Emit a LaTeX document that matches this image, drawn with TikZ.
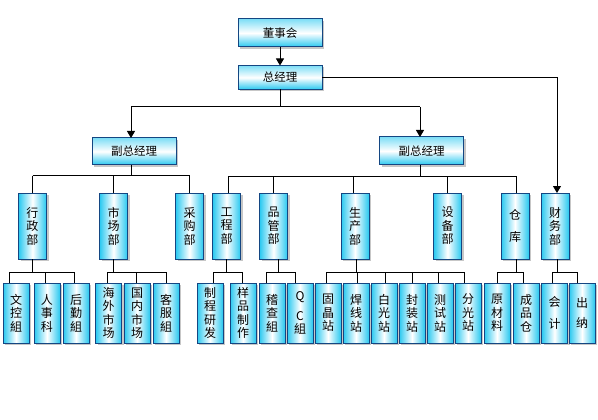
\documentclass[tikz,border=0pt]{standalone}
\usepackage{fontspec}
\setmainfont{Noto Sans CJK SC}
\usetikzlibrary{arrows.meta,shadows}
\definecolor{bd}{RGB}{20,70,130}
\definecolor{cy}{RGB}{40,200,240}
\begin{document}
\begin{tikzpicture}[x=1pt,y=-1pt,
 box/.style={draw=bd,line width=1pt,inner sep=0pt,outer sep=0pt,
   drop shadow={shadow xshift=2pt,shadow yshift=-2pt,fill=black!22,opacity=1}},
 hbox/.style={box,top color=cy!60,bottom color=cy,middle color=white,minimum width=84pt,font=\fontsize{11.5}{13}\selectfont},
 vbox/.style={box,left color=cy,right color=cy,middle color=white,align=center,font=\fontsize{12}{13.5}\selectfont},
 rowone/.style={vbox,minimum width=28pt,minimum height=66pt},
 rowtwo/.style={vbox,minimum width=26pt,minimum height=60pt},
 ln/.style={line width=1pt},
 arr/.style={ln,-{Triangle[width=8pt,length=7pt]}}]
\useasboundingbox (0,0) rectangle (598,420);
\fill[white] (0,0) rectangle (598,420);

% top level
\node[hbox,minimum height=28pt] (dsh) at (280,33) {董事会};
\node[hbox,minimum height=24pt] (zjl) at (280,77.5) {总经理};
\node[hbox,minimum height=27pt] (fzL) at (134,151.5) {副总经理};
\node[hbox,minimum height=28pt] (fzR) at (421.5,151) {副总经理};

% row one
\node[rowone] (xz) at (32.5,226) {行\\政\\部};
\node[rowone] (sc) at (113.5,226) {市\\场\\部};
\node[rowone] (cg) at (189.5,226) {采\\购\\部};
\node[rowone] (gc) at (226.5,226) {工\\程\\部};
\node[rowone] (pg) at (273.5,226) {品\\管\\部};
\node[rowone] (scb) at (355,226) {生\\产\\部};
\node[rowone] (sb) at (447.5,226) {设\\备\\部};
\node[rowone] (ck) at (515,226) {仓\\[8pt]库};
\node[rowone] (cw) at (555,226) {财\\务\\部};

% row two
\node[rowtwo] (wk) at (16,313) {文\\控\\組};
\node[rowtwo] (rs) at (47,313) {人\\事\\科};
\node[rowtwo] (hq) at (76,313) {后\\勤\\組};
\node[rowtwo] (hw) at (108.5,313) {海\\外\\市\\场};
\node[rowtwo] (gn) at (137,313) {国\\内\\市\\场};
\node[rowtwo] (kf) at (166,313) {客\\服\\組};
\node[rowtwo] (zc) at (210,313) {制\\程\\研\\发};
\node[rowtwo] (yp) at (243,313) {样\\品\\制\\作};
\node[rowtwo] (jc) at (272,313) {稽\\查\\組};
\node[rowtwo] (qc) at (300,313) {Q\\[6pt]C\\組};
\node[rowtwo] (gj) at (328,313) {固\\晶\\站};
\node[rowtwo] (hx) at (356,313) {焊\\线\\站};
\node[rowtwo] (bg) at (384,313) {白\\光\\站};
\node[rowtwo] (fz) at (412,313) {封\\装\\站};
\node[rowtwo] (cs) at (440,313) {测\\试\\站};
\node[rowtwo] (fg) at (468,313) {分\\光\\站};
\node[rowtwo] (ycl) at (497,313) {原\\材\\料};
\node[rowtwo] (cpc) at (526,313) {成\\品\\仓};
\node[rowtwo] (kj) at (554.5,313) {会\\[8pt]计};
\node[rowtwo] (cn) at (582,313) {出\\[6pt]纳};

% top connectors
\draw[arr] (dsh) -- (zjl);
\coordinate (t1) at (280,107);
\draw[ln] (zjl) -- (t1);
\coordinate (tl) at (131,107);
\coordinate (tr) at (420,107);
\draw[ln] (tl) -- (tr);
\draw[arr] (tl) -- (tl |- fzL.north);
\draw[arr] (tr) -- (tr |- fzR.north);
\coordinate (fc) at (557,77.5);
\draw[ln] (zjl.east) -- (fc);
\draw[arr] (fc) -- (fc |- cw.north);

% left vice GM group
\coordinate (l1) at (131,175.5);
\draw[ln] (fzL.south -| l1) -- (l1);
\draw[ln] (32.5,175.5) -- (189.5,175.5);
\foreach \n in {xz,sc,cg} \draw[ln] (\n.north |- l1) -- (\n.north);

% right vice GM group
\coordinate (r1) at (420,176);
\draw[ln] (fzR.south -| r1) -- (r1);
\draw[ln] (228,176) -- (516,176);
\foreach \x/\n in {228/gc,273/pg,353/scb,447/sb,516/ck} \draw[ln] (\x,176) -- (\x,0 |- \n.north);

% row two groups
\draw[ln] (xz.south) -- (32.5,272);
\draw[ln] (9,272) -- (74,272);
\foreach \x/\n in {9/wk,45/rs,74/hq} \draw[ln] (\x,272) -- (\x,0 |- \n.north);

\draw[ln] (sc.south) -- (113.5,272);
\draw[ln] (107,272) -- (166,272);
\foreach \x/\n in {107/hw,136/gn,166/kf} \draw[ln] (\x,272) -- (\x,0 |- \n.north);

\draw[ln] (gc.south) -- (226.5,272);
\draw[ln] (213,272) -- (242,272);
\foreach \x/\n in {213/zc,242/yp} \draw[ln] (\x,272) -- (\x,0 |- \n.north);

\draw[ln] (pg.south -| 278,0) -- (278,272);
\draw[ln] (266,272) -- (295,272);
\foreach \x/\n in {266/jc,295/qc} \draw[ln] (\x,272) -- (\x,0 |- \n.north);

\draw[ln] (scb.south -| 356,0) -- (356,272);
\draw[ln] (326,272) -- (464,272);
\foreach \x/\n in {326/gj,357/hx,385/bg,412/fz,438/cs,464/fg} \draw[ln] (\x,272) -- (\x,0 |- \n.north);

\draw[ln] (ck.south -| 516,0) -- (516,272);
\draw[ln] (497,272) -- (523,272);
\foreach \x/\n in {497/ycl,523/cpc} \draw[ln] (\x,272) -- (\x,0 |- \n.north);

\draw[ln] (cw.south -| 557,0) -- (557,272);
\draw[ln] (552,272) -- (577,272);
\foreach \x/\n in {552/kj,577/cn} \draw[ln] (\x,272) -- (\x,0 |- \n.north);
\end{tikzpicture}
\end{document}
